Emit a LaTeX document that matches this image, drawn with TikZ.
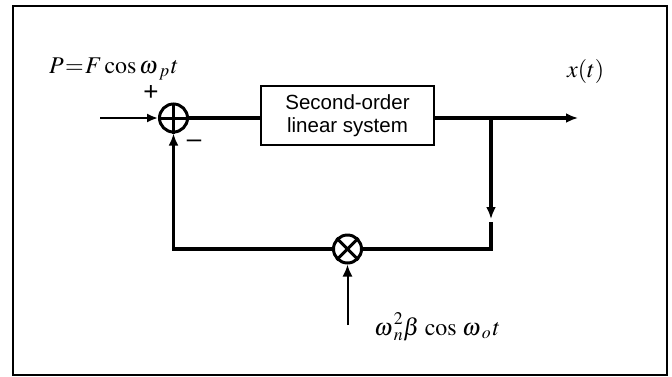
\documentclass[tikz,border=0pt]{standalone}
\usepackage{mathptmx}
\usepackage{fontspec}
\setmainfont{Liberation Serif}
\newfontfamily\boxfont{Liberation Sans}
\usepackage{tikz}
\usetikzlibrary{calc,positioning,arrows.meta}

\begin{document}
\begin{tikzpicture}[x=1pt,y=-1pt,
  jn/.style={draw,circle,line width=3pt,minimum size=28pt,inner sep=0pt},
  sysbox/.style={draw,line width=2pt,minimum width=173pt,minimum height=59pt,align=center,
  font=\boxfont\fontsize{20.5}{23}\selectfont},
  thick line/.style={line width=3.5pt},
  thin line/.style={line width=2pt},
  lbl/.style={anchor=base west,inner sep=0pt,font=\fontsize{24}{28}\selectfont},
  sign/.style={anchor=base,inner sep=0pt,font=\boxfont\fontsize{26}{30}\selectfont}]
\useasboundingbox (0,0) rectangle (672,376);
\draw[line width=2.5pt] (13,6) rectangle (667,375);
\node[jn] (sum) at (173.5,118) {};\node[jn] (mult) at (347.5,249) {};
\draw[line width=3pt] (sum.north) -- (sum.south);\draw[line width=3pt] (sum.west) -- (sum.east);
\draw[line width=3pt] (mult.north east) -- (mult.south west);\draw[line width=3pt] (mult.north west) -- (mult.south east);
\node[sysbox] (sys) at (347.5,115.5) {Second-order\\ linear system};
\coordinate (in) at (100,118);\coordinate (out) at (578,118);\coordinate (br) at (491,118);
\coordinate (brend) at (491,219);\coordinate (brgo) at (491,222);\coordinate (fb) at (491,249);
\coordinate (fbl) at (173.5,249);\coordinate (osc) at (347.5,325);
\draw[-{Latex[length=11pt,width=9pt]},thin line] (in) -- (sum.west);
\draw[thick line] (sum.east) -- (sum.east -| sys.west);
\draw[-{Latex[length=12pt,width=10pt]},thick line] (sys.east |- br) -- (out);
\draw[-{Latex[length=12pt,width=10pt]},thick line] (br) -- (brend);
\draw[thick line] (brgo) -- (fb) -- (mult.east);
\draw[-{Latex[length=12pt,width=10pt]},thick line] (mult.west) -- (fbl) -- (sum.south);
\draw[-{Latex[length=12pt,width=10pt]},thin line] (osc) -- (mult.south);
\node[lbl] (force) at (49,73) {$P\mkern1mu{=}\mkern1mu F\cos\omega\mkern1mu{}_{p}\mkern1mu t$};
\node[lbl] (resp) at (567,77) {$x(t)$};
\node[lbl] (pump) at (374,335) {$\omega\mkern1mu{}_{n}^{\raisebox{2pt}{$\scriptstyle 2$}}\beta\,\cos\,\omega\mkern1mu{}_{o}\mkern1mu t$};
\node[sign] (plus) at (151,100) {+};
\node[sign] (minus) at (194,147) {\textendash};
\end{tikzpicture}
\end{document}
